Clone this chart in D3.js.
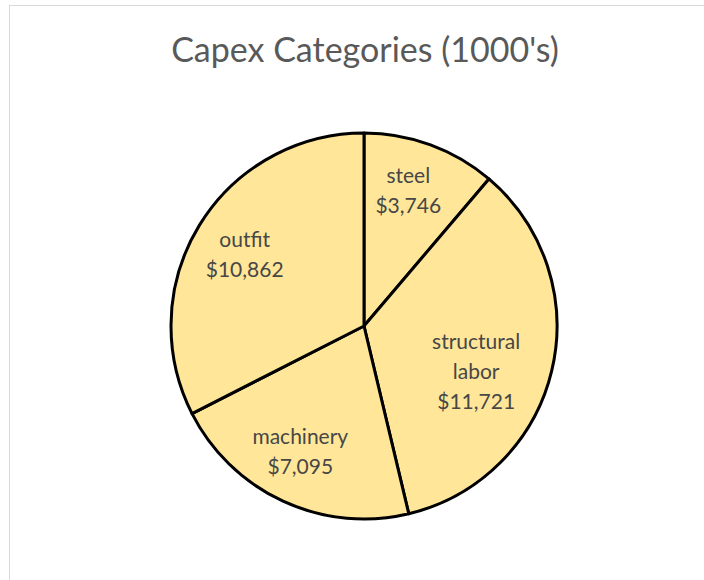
<!DOCTYPE html>
<html>
<head>
<meta charset="utf-8">
<script src="https://cdn.jsdelivr.net/npm/d3@7"></script>
<style>
  html, body { margin: 0; padding: 0; background: #ffffff; }
  svg { display: block; }
  text { font-family: Lato, "Open Sans", sans-serif; }
</style>
</head>
<body>
<script>
// Capital expenditure by category, in thousands of dollars
const categories = ["steel", "structural labor", "machinery", "outfit"];
const values = [3746, 11721, 7095, 10862];
const title = "Capex Categories (1000's)";

const W = 704, H = 580;
const cx = 364, cy = 326, R = 193;

// Label nudges so each text block sits comfortably inside its slice
const labelNudge = {
  "steel": [-4, -4],
  "structural labor": [-24, 13],
  "machinery": [-5, -1],
  "outfit": [0, 2]
};

const svg = d3.select("body").append("svg")
  .attr("width", W).attr("height", H);

// Chart area frame
svg.append("rect")
  .attr("x", 9.5).attr("y", 5.5)
  .attr("width", W + 10).attr("height", H + 10)
  .attr("fill", "#ffffff")
  .attr("stroke", "#d9d9d9").attr("stroke-width", 1);

svg.append("text")
  .attr("x", cx + 1).attr("y", 62)
  .attr("text-anchor", "middle")
  .attr("font-size", 34)
  .attr("fill", "#595959")
  .text(title);

const data = categories.map((c, i) => ({ name: c, value: values[i] }));

const pie = d3.pie().value(d => d.value).sort(null);
const arc = d3.arc().innerRadius(0).outerRadius(R);
const labelArc = d3.arc().innerRadius(140).outerRadius(140);

const g = svg.append("g").attr("transform", `translate(${cx},${cy})`);
const arcs = pie(data);

g.selectAll("path.slice")
  .data(arcs)
  .join("path")
  .attr("class", "slice")
  .attr("d", arc)
  .attr("fill", "#ffe699")
  .attr("stroke", "#000000")
  .attr("stroke-width", 3)
  .attr("stroke-linejoin", "round");

const fmt = d3.format(",");
const lineH = 30;

g.selectAll("text.lbl")
  .data(arcs)
  .join("text")
  .attr("class", "lbl")
  .attr("text-anchor", "middle")
  .attr("font-size", 21)
  .attr("fill", "#474747")
  .each(function (d) {
    const [x0, y0] = labelArc.centroid(d);
    const nudge = labelNudge[d.data.name] || [0, 0];
    const x = x0 + nudge[0], y = y0 + nudge[1];
    const lines = d.data.name.split(" ").concat(["$" + fmt(d.data.value)]);
    const top = y - (lines.length - 1) * lineH / 2;
    const t = d3.select(this);
    lines.forEach((ln, i) => {
      t.append("tspan")
        .attr("x", x)
        .attr("y", top + i * lineH)
        .attr("dy", "0.35em")
        .text(ln);
    });
  });
</script>
</body>
</html>
